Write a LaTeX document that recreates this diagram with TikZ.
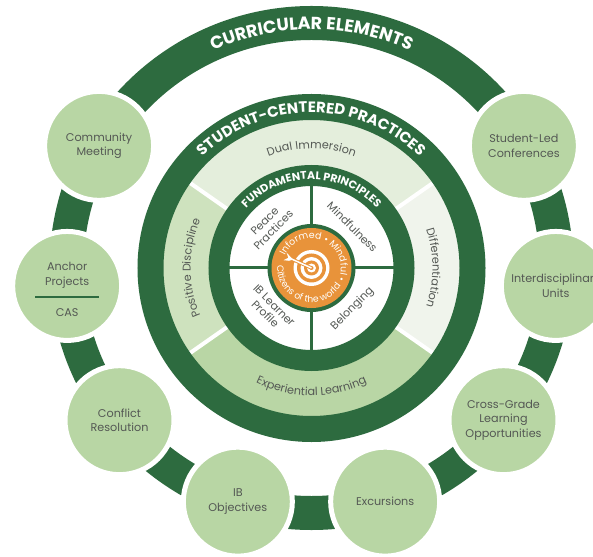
\documentclass[tikz,border=0pt]{standalone}
\usepackage{fontspec}
\setmainfont{Poppins}
\usetikzlibrary{decorations.text}
\definecolor{dg}{HTML}{2D6B3F}
\definecolor{cg}{HTML}{B8D6A4}
\definecolor{pdc}{HTML}{CEE2BE}
\definecolor{dic}{HTML}{E4EEDC}
\definecolor{dfc}{HTML}{F0F4EC}
\definecolor{elc}{HTML}{B9D6A5}
\definecolor{og}{HTML}{E8933A}
\definecolor{tg}{HTML}{545854}
\newcommand\bubfont{\fontsize{11.2}{14.5}\selectfont}
\newcommand\qfont{\fontsize{11}{12.5}\selectfont}
\newcommand\ctitle{\fontsize{17.5}{17.5}\selectfont\bfseries}
\newcommand\stitle{\fontsize{15}{15}\selectfont\bfseries}
\newcommand\ftitle{\fontsize{11}{11}\selectfont\bfseries}
\newcommand\bandfont{\fontsize{11.2}{11.2}\selectfont}
\newcommand\ofont{\fontsize{9.4}{9.4}\selectfont}
\newcommand\obfont{\fontsize{9.2}{9.2}\selectfont}
\tikzset{
  bub/.style={circle, fill=cg, draw=white, line width=5pt, minimum size=109pt, inner sep=0pt, align=center, text=tg, font=\bubfont},
  bt/.style={align=center, text=tg, font=\bubfont, inner sep=0pt},
  qt/.style={align=center, text=tg, font=\qfont, inner sep=0pt},
  arctext/.style={decorate, decoration={text along path, text align=center, text color=#1}},
}
\begin{document}
\begin{tikzpicture}[x=1pt,y=1pt]
\path[use as bounding box] (-311.5,-288) rectangle (281.5,268);
\begin{scope}
\clip (-311.5,-288) rectangle (281.5,268);
\fill[white] (-311.5,-288) rectangle (281.5,268);
\coordinate (c) at (0,0);
% outer band
\draw[dg, line width=34pt] (c) circle (245);
% light band segments
\draw[dic, line width=46pt] (35:125.5) arc (35:145:125.5);
\draw[pdc, line width=46pt] (145:125.5) arc (145:215:125.5);
\draw[elc, line width=46pt] (215:125.5) arc (215:325:125.5);
\draw[dfc, line width=46pt] (325:125.5) arc (325:395:125.5);
\foreach \a in {35,145,215,325} \draw[white, line width=4pt] (\a:100) -- (\a:150);
% rings
\draw[dg, line width=26pt] (c) circle (161);
\draw[dg, line width=21pt] (c) circle (92.5);
% quadrant dividers
\foreach \a in {0,90,180,270} \draw[dg, line width=3pt] (\a:42) -- (\a:83);
% orange center
\fill[dg] (c) circle (44);
\node[circle, fill=og, minimum size=80pt, inner sep=0pt] (core) at (c) {};
% target
\fill[white] (c) circle (18);
\fill[og] (c) circle (14.5);
\fill[white] (c) circle (11);
\fill[og] (c) circle (7.5);
\fill[white] (c) circle (4.5);
\fill[og] (c) circle (2);
\coordinate (tail) at (-21,9.5);
\draw[og, line width=3.4pt] (tail) -- (c);
\draw[white, line width=1.5pt] (tail) -- (c);
\fill[white] (-18.5,8.4) -- (-25,15.5) -- (-23.2,10.2) -- (-28,7.8) -- (-22.5,7.2) -- cycle;
% orange circle text
\path[arctext=white, decoration={text={|\ofont|Informed • Mindful •}}] (175:29.3) arc (175:-45:29.3);
\path[arctext=white, decoration={text={|\obfont|Citizens of the world}}] (165:34.3) arc (165:339:34.3);
% quadrant texts
\node[qt, rotate=45] (pp) at (135:60) {Peace\\Practices};
\node[qt, rotate=-45] (mf) at (45:58) {Mindfulness};
\node[qt, rotate=-45] (ib) at (225:59) {IB Learner\\Profile};
\node[qt, rotate=45] (bl) at (-45:58) {Belonging};
% band texts
\path[arctext=tg, decoration={text={|\bandfont|Dual Immersion}}] (145:119.5) arc (145:35:119.5);
\path[arctext=tg, decoration={text={|\bandfont|Experiential Learning}}] (215:127.5) arc (215:325:127.5);
\path[arctext=tg, decoration={text={|\bandfont|Positive Discipline}}] (215:121) arc (215:145:121);
\path[arctext=tg, decoration={text={|\bandfont|Differentiation}}] (35:121) arc (35:-35:121);
% ring titles
\path[arctext=white, decoration={text={|\ctitle|CURRICULAR ELEMENTS}}] (150:238.5) arc (150:30:238.5);
\path[arctext=white, decoration={text={|\stitle|STUDENT-CENTERED PRACTICES}}] (160:155.5) arc (160:20:155.5);
\path[arctext=white, decoration={text={|\ftitle|FUNDAMENTAL PRINCIPLES}}] (165:88.6) arc (165:15:88.6);
% outer bubbles
\node[bub] (cm) at (150.1:245) {Community\\Meeting};
\node[bub] (ap) at (184.2:245) {};
\node[bt] (apt) at ([yshift=10.5pt]ap.center) {Anchor\\Projects};
\node[bt] (cas) at ([yshift=-27pt]ap.center) {CAS};
\coordinate (apl) at ([xshift=-32pt,yshift=-11pt]ap.center);
\coordinate (apr) at ([xshift=32pt,yshift=-11pt]ap.center);
\draw[dg, line width=1.2pt] (apl) -- (apr);
\node[bub] (cr) at (218.4:245) {Conflict\\Resolution};
\node[bub] (ibo) at (252.5:245) {IB\\Objectives};
\node[bub] (ex) at (287.5:245) {Excursions};
\node[bub] (cgo) at (321.6:245) {Cross-Grade\\Learning\\Opportunities};
\node[bub] (iu) at (355.8:245) {Interdisciplinary\\Units};
\node[bub] (sl) at (29.9:245) {Student-Led\\Conferences};
\end{scope}
\end{tikzpicture}
\end{document}
